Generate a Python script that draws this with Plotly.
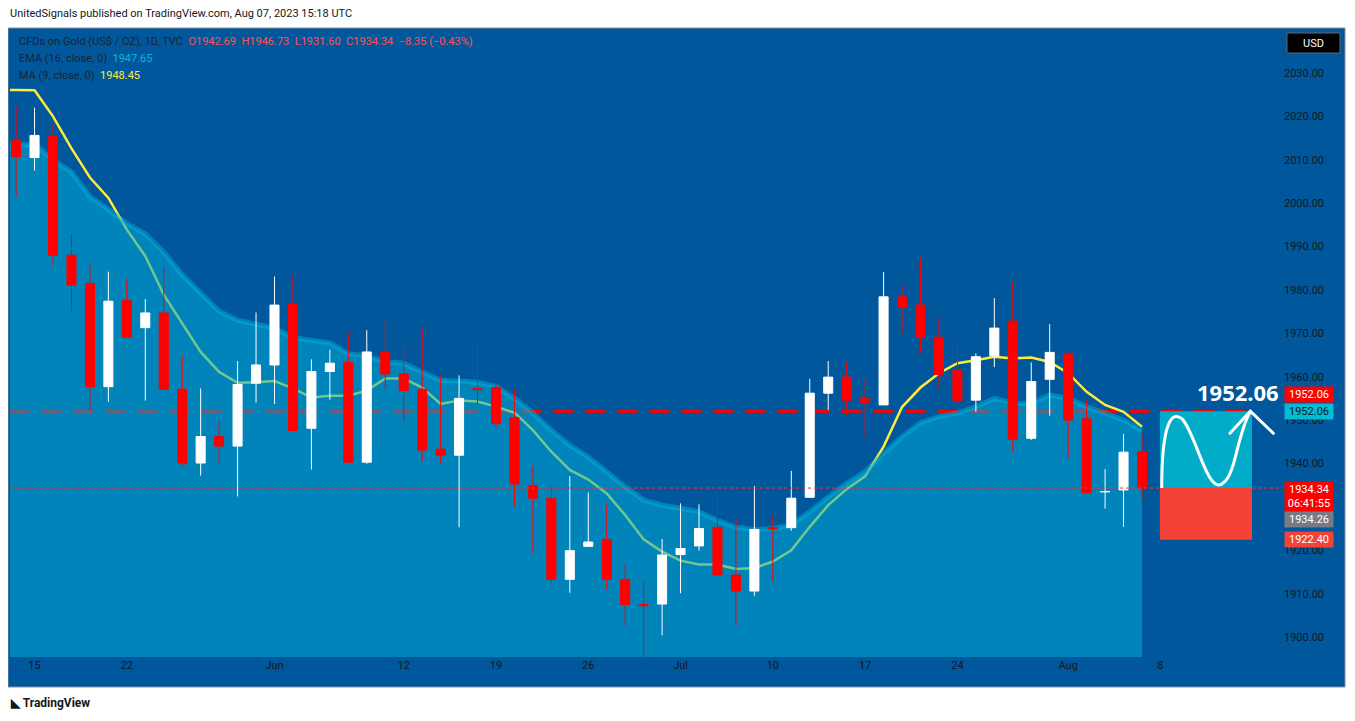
import plotly.graph_objects as go

dates = ["May 12","May 15","May 16","May 17","May 18","May 19","May 22","May 23","May 24","May 25","May 26","May 29","May 30","May 31",
"Jun 1","Jun 2","Jun 5","Jun 6","Jun 7","Jun 8","Jun 9","Jun 12","Jun 13","Jun 14","Jun 15","Jun 16","Jun 19","Jun 20","Jun 21","Jun 22","Jun 23","Jun 26","Jun 27","Jun 28","Jun 29","Jun 30",
"Jul 3","Jul 4","Jul 5","Jul 6","Jul 7","Jul 10","Jul 11","Jul 12","Jul 13","Jul 14","Jul 17","Jul 18","Jul 19","Jul 20","Jul 21","Jul 24","Jul 25","Jul 26","Jul 27","Jul 28","Jul 31",
"Aug 1","Aug 2","Aug 3","Aug 4","Aug 7"]
opens = [2014.5,2010.5,2015.4,1988.0,1981.5,1957.7,1977.6,1971.3,1974.7,1957.1,1940.1,1946.2,1944.0,1958.5,
1962.7,1976.8,1948.1,1961.2,1963.3,1940.3,1965.6,1960.7,1957.1,1943.3,1941.9,1957.3,1957.5,1950.6,1934.9,1932.0,1913.3,1920.9,1922.5,1913.3,1907.5,1907.6,
1919.0,1921.0,1925.3,1914.3,1910.6,1925.2,1925.2,1932.2,1956.2,1959.9,1955.0,1953.5,1978.4,1976.5,1969.1,1961.5,1954.6,1964.8,1972.8,1945.8,1959.4,
1965.2,1950.3,1933.5,1933.9,1942.69]
highs = [2022.4,2022.0,2018.2,1992.9,1986.1,1984.2,1982.6,1977.9,1985.4,1964.8,1957.3,1949.8,1963.6,1974.8,
1983.1,1983.5,1964.0,1966.2,1970.2,1970.7,1973.2,1967.0,1971.1,1960.3,1960.3,1967.8,1958.6,1957.0,1939.4,1934.8,1937.1,1933.3,1930.6,1917.0,1912.7,1922.6,
1930.8,1930.6,1934.8,1927.6,1934.8,1928.0,1938.3,1959.5,1963.6,1963.6,1959.8,1984.1,1980.9,1987.3,1973.7,1967.5,1965.4,1978.1,1981.9,1963.3,1972.1,
1965.8,1954.5,1938.7,1946.8,1946.73]
lows = [2001.4,2007.5,1985.6,1975.1,1952.2,1954.2,1969.1,1954.5,1957.1,1939.3,1937.2,1940.1,1932.4,1954.0,
1953.7,1947.6,1938.6,1954.7,1940.3,1939.9,1957.0,1949.6,1940.4,1940.0,1925.3,1953.6,1948.1,1930.1,1919.3,1912.5,1910.2,1920.9,1910.8,1902.7,1895.3,1900.4,
1910.1,1919.9,1914.3,1902.6,1909.5,1912.7,1924.5,1932.2,1952.3,1951.2,1945.9,1953.5,1970.0,1965.5,1957.1,1953.5,1951.9,1962.2,1942.6,1945.4,1951.0,
1941.2,1933.0,1929.6,1925.4,1931.60]
closes = [2010.7,2015.6,1988.0,1981.1,1957.7,1977.4,1969.1,1974.7,1957.1,1940.1,1946.2,1944.0,1958.2,1962.7,
1976.5,1947.6,1961.2,1963.1,1940.3,1965.7,1960.6,1956.8,1943.1,1941.9,1955.0,1957.0,1949.2,1935.3,1932.0,1913.3,1919.9,1921.9,1913.3,1907.5,1907.2,1918.9,
1920.4,1925.0,1914.3,1910.6,1924.8,1924.9,1932.0,1956.2,1959.9,1954.6,1954.1,1978.4,1976.0,1969.1,1960.5,1954.5,1964.6,1971.2,1945.6,1958.9,1965.6,
1950.0,1933.3,1933.5,1942.6,1934.34]
ma9 = [2026.1,2026.0,2020.0,2012.6,2005.9,2001.2,1993.9,1987.8,1978.9,1972.3,1965.7,1961.1,1958.6,1958.7,
1959.0,1957.3,1955.2,1955.6,1955.6,1956.8,1959.6,1959.6,1957.5,1953.7,1954.5,1954.3,1953.1,1951.7,1947.7,1942.7,1938.5,1936.3,1933.1,1928.1,1922.5,1919.7,
1917.6,1916.7,1916.7,1915.7,1915.9,1917.4,1920.0,1925.4,1930.4,1934.1,1937.0,1943.9,1953.0,1957.5,1960.8,1963.1,1963.8,1964.6,1964.2,1964.4,1963.4,
1960.8,1956.5,1953.5,1951.9,1948.45]
ema16 = [2013.5,2013.5,2010.0,2007.2,2001.5,1998.5,1995.3,1992.9,1988.7,1983.5,1979.3,1975.1,1973.0,1972.1,
1971.2,1969.0,1968.4,1967.8,1965.3,1964.8,1963.4,1963.1,1961.1,1959.2,1959.0,1958.7,1957.8,1955.0,1951.6,1947.7,1944.2,1941.5,1938.1,1934.6,1931.6,1930.4,
1929.7,1928.9,1926.9,1925.3,1924.8,1925.0,1925.8,1928.9,1932.3,1935.4,1938.1,1942.3,1946.2,1949.4,1950.8,1951.6,1953.1,1955.0,1953.9,1953.9,1955.8,
1955.0,1953.1,1951.6,1950.0,1947.65]

tick_pos = [1, 6, 14, 21, 26, 31, 36, 41, 46, 51, 57, 62]
tick_text = ["15", "22", "Jun", "12", "19", "26", "Jul", "10", "17", "24", "Aug", "8"]
y_ticks = [1900, 1910, 1920, 1930, 1940, 1950, 1960, 1970, 1980, 1990, 2000, 2010, 2020, 2030]

target = 1952.06
last = 1934.34
stop = 1922.40
mid_price = 1934.26

x = list(range(len(dates)))
n = len(dates) - 1
BG = "#01579b"
Y0, Y1 = 1895.4, 2039.9
X0, X1 = -0.33, n + 7.64
PW, PH = 1273, 627

def line_path(xs, ys):
    return "M " + " L ".join("{} {}".format(a, b) for a, b in zip(xs, ys))

ma_path = line_path([X0] + x, [ma9[0]] + ma9)
ema_xs = [X0] + x
ema_ys = [ema16[0]] + ema16
area_path = line_path(ema_xs, ema_ys) + " L {} {} L {} {} Z".format(n, Y0 - 5, X0, Y0 - 5)

shapes = [
    dict(type="rect", xref="paper", yref="paper", x0=-2/PW, x1=1+62/PW, y0=-30/PH, y1=1+2/PH,
         fillcolor=BG, line=dict(color="#8a8f99", width=1), layer="below"),
    dict(type="line", x0=X0, x1=n + 5.7, y0=target, y1=target, layer="below",
         line=dict(color="#ff0000", width=3, dash="20px,12px")),
    dict(type="path", path=ma_path, layer="below", line=dict(color="#ffeb3b", width=2.5)),
    dict(type="path", path=area_path, layer="below", fillcolor="rgba(0,170,212,0.55)", line=dict(width=0)),
    dict(type="path", path=line_path(ema_xs, ema_ys), layer="below", line=dict(color="rgba(0,185,225,0.45)", width=5)),
]

fig = go.Figure()
fig.add_trace(go.Scatter(x=[X0, X1], y=[last, last], mode="lines",
                         line=dict(color="#ff3030", width=1, dash="dot"), hoverinfo="skip"))
fig.add_trace(go.Candlestick(x=x, open=opens, high=highs, low=lows, close=closes,
                             increasing=dict(fillcolor="#ffffff", line=dict(color="#ffffff", width=1)),
                             decreasing=dict(fillcolor="#ff0000", line=dict(color="#ff0000", width=1)),
                             whiskerwidth=0, hoverinfo="skip"))

bx0, bx1 = n + 0.97, n + 5.96
span = target - last
shapes += [
    dict(type="rect", x0=bx0, x1=bx1, y0=last, y1=target, fillcolor="#00acc8", line=dict(width=0), layer="above"),
    dict(type="rect", x0=bx0, x1=bx1, y0=stop, y1=last, fillcolor="#f44336", line=dict(width=0), layer="above"),
    dict(type="rect", xref="paper", yref="paper", x0=1+4/PW, x1=1+57/PW, y0=1-23/PH, y1=1-3/PH,
         fillcolor="#000000", line=dict(color="#666", width=1)),
]
curve = ("M {} {} C {} {} {} {} {} {} C {} {} {} {} {} {} C {} {} {} {} {} {}").format(
    bx0 + 0.1, last,
    bx0 + 0.1, last + 0.9 * span, bx0 + 0.7, last + 1.0 * span, bx0 + 1.2, last + 0.9 * span,
    bx0 + 2.0, last + 0.7 * span, bx0 + 2.6, last - 0.15 * span, bx0 + 3.5, last + 0.08 * span,
    bx0 + 4.1, last + 0.2 * span, bx0 + 4.2, last + 0.7 * span, bx0 + 4.9, target)
shapes.append(dict(type="path", path=curve, line=dict(color="white", width=3)))
shapes.append(dict(type="path", path="M {} {} L {} {} L {} {}".format(bx0 + 3.75, target - 0.3 * span, bx0 + 4.9, target,
                                                                      bx0 + 6.2, target - 0.3 * span),
                   line=dict(color="white", width=3)))

anns = [
    dict(xref="paper", yref="paper", x=-2/PW, y=1+16/PH, xanchor="left", yanchor="middle", showarrow=False,
         text="UnitedSignals published on TradingView.com, Aug 07, 2023 15:18 UTC", font=dict(size=11, color="#131722")),
    dict(xref="paper", yref="paper", x=-2/PW, y=-46/PH, xanchor="left", yanchor="middle", showarrow=False,
         text="<b>◣ TradingView</b>", font=dict(size=12, color="#131722")),
    dict(xref="paper", yref="paper", x=7/PW, y=1-12/PH, xanchor="left", yanchor="middle", showarrow=False,
         text="CFDs on Gold (US$ / OZ), 1D, TVC  <span style='color:#ff5050'>O1942.69  H1946.73  L1931.60  C1934.34  −8.35 (−0.43%)</span>",
         font=dict(size=11, color="#1c2430")),
    dict(xref="paper", yref="paper", x=7/PW, y=1-29/PH, xanchor="left", yanchor="middle", showarrow=False,
         text="EMA (16, close, 0)  <span style='color:#00bcd4'>1947.65</span>", font=dict(size=11, color="#1c2430")),
    dict(xref="paper", yref="paper", x=7/PW, y=1-46/PH, xanchor="left", yanchor="middle", showarrow=False,
         text="MA (9, close, 0)  <span style='color:#ffeb3b'>1948.45</span>", font=dict(size=11, color="#1c2430")),
    dict(xref="paper", yref="paper", x=1+30/PW, y=1-13/PH, xanchor="center", yanchor="middle", showarrow=False,
         text="USD", font=dict(size=11, color="white")),
    dict(x=n + 5.2, y=target, xanchor="center", yanchor="bottom", yshift=2, showarrow=False,
         text="<b>1952.06</b>", font=dict(size=22, color="white", family="Noto Sans")),
]
tags = [(target, "1952.06", "#ff0000", "white", 17), (target, "1952.06", "#00bcd4", "#131722", 0),
        (last, "1934.34<br>06:41:55", "#ff0000", "white", -8), (mid_price, "1934.26", "#787b86", "white", -31),
        (stop, "1922.40", "#f44336", "white", 0)]
for yv, t, bg, fc, ys in tags:
    anns.append(dict(xref="paper", x=1+1/PW, y=yv, yshift=ys, xanchor="left", yanchor="middle", showarrow=False,
                     text=t, bgcolor=bg, font=dict(size=11, color=fc), borderpad=1, width=46))

fig.update_layout(
    width=1347, height=713, paper_bgcolor="white", plot_bgcolor=BG,
    margin=dict(l=2, r=72, t=22, b=64), showlegend=False,
    font=dict(family="Roboto", size=11, color="#131722"),
    shapes=shapes, annotations=anns,
    xaxis=dict(range=[X0, X1], tickvals=tick_pos, ticktext=tick_text, showgrid=False, zeroline=False,
               rangeslider=dict(visible=False), ticks="", tickfont=dict(size=11, color="#131722")),
    yaxis=dict(range=[Y0, Y1], side="right", tickvals=y_ticks, ticktext=["%.2f" % v for v in y_ticks],
               showgrid=False, zeroline=False, ticks="", tickfont=dict(size=11, color="#131722")),
)
fig.write_html("out.html")
